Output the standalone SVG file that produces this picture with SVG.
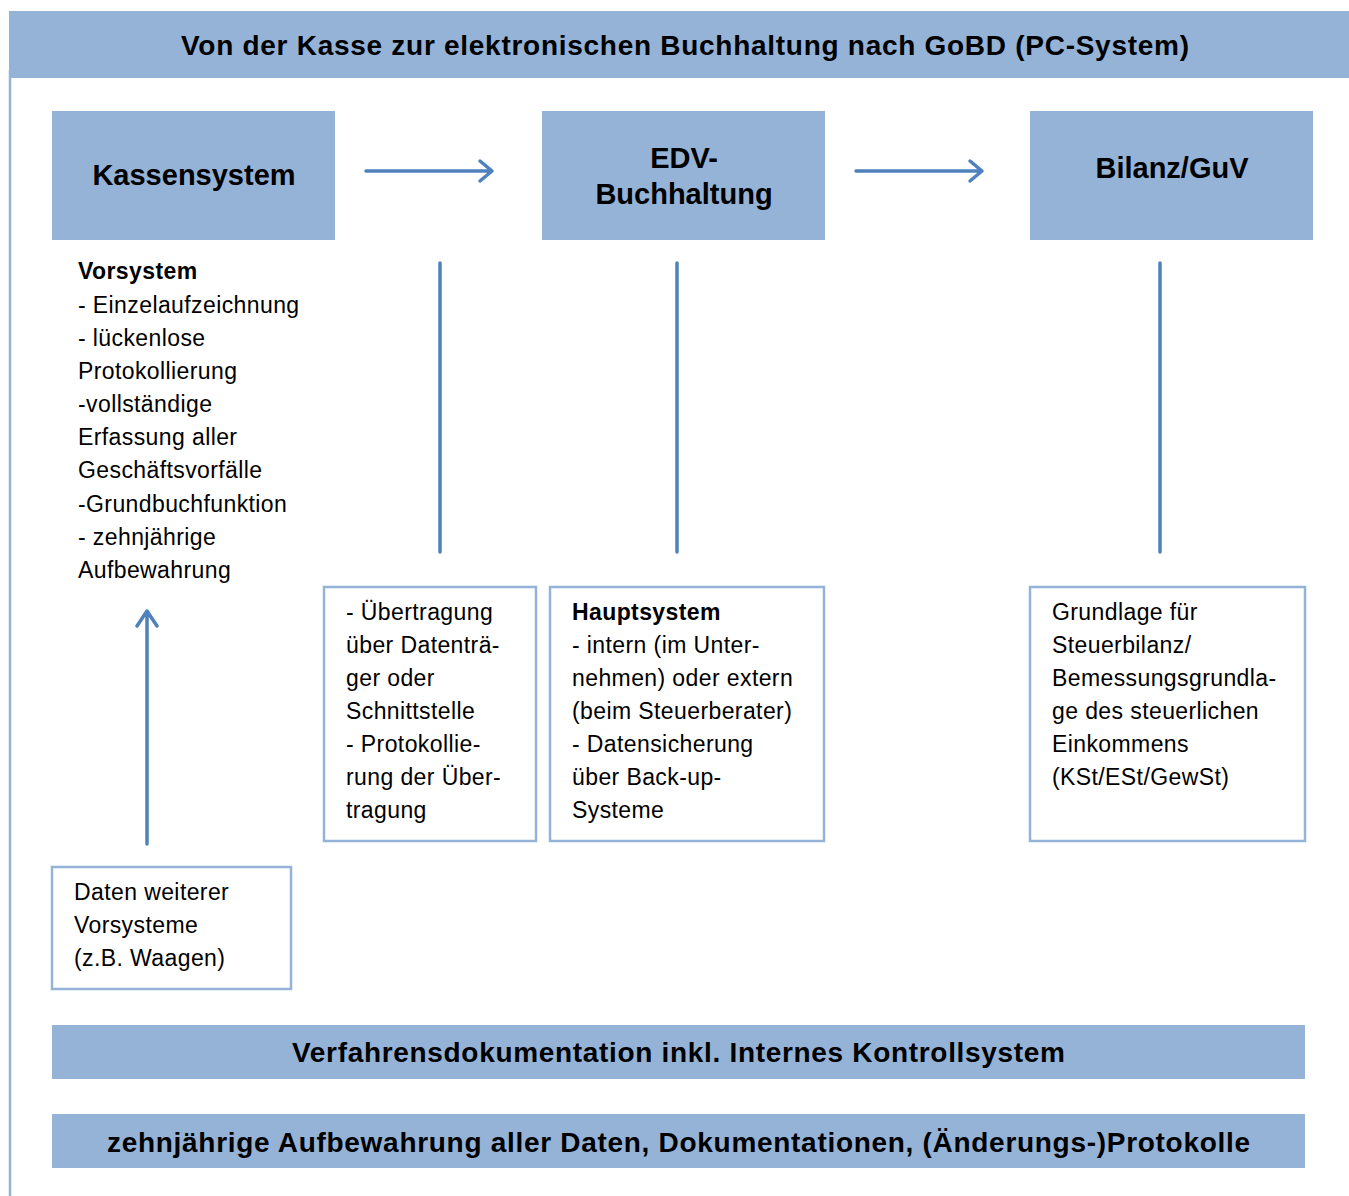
<svg xmlns="http://www.w3.org/2000/svg" width="1349" height="1196" viewBox="0 0 1349 1196">
<defs>
<style>
.band{fill:#95b3d7}
.box{fill:#fff;stroke:#95b3d7;stroke-width:2.5}
.conn{stroke:#4f81bd;stroke-width:3.5;fill:none;stroke-linecap:round;stroke-linejoin:round}
.t{font-family:"Liberation Sans",Arial,sans-serif;font-size:23px;letter-spacing:0.4px;fill:#000}
.b{font-weight:bold}
.h{font-family:"Liberation Sans",Arial,sans-serif;font-size:29px;font-weight:bold;fill:#000;text-anchor:middle}
.hb{font-family:"Liberation Sans",Arial,sans-serif;font-size:28px;font-weight:bold;fill:#000;text-anchor:middle}
</style>
</defs>
<rect width="1349" height="1196" fill="#fff"/>
<line x1="10" y1="70" x2="10" y2="1196" stroke="#95b3d7" stroke-width="2.5"/>
<g id="title">
<rect class="band" x="9" y="11" width="1340" height="67"/>
<text class="hb" x="685" y="55" textLength="1008" lengthAdjust="spacing">Von der Kasse zur elektronischen Buchhaltung nach GoBD (PC-System)</text>
</g>
<g id="kassensystem">
<rect class="band" x="52" y="111" width="283" height="129"/>
<text class="h" x="194" y="185">Kassensystem</text>
</g>
<g id="edv">
<rect class="band" x="542" y="111" width="283" height="129"/>
<text class="h" x="684" y="168">EDV-</text>
<text class="h" x="684" y="204">Buchhaltung</text>
</g>
<g id="bilanz">
<rect class="band" x="1030" y="111" width="283" height="129"/>
<text class="h" x="1172" y="178">Bilanz/GuV</text>
</g>
<g id="vorsystem">
<text class="t" x="78"><tspan class="b" x="78" y="279">Vorsystem</tspan><tspan x="78" y="313">- Einzelaufzeichnung</tspan><tspan x="78" y="346">- lückenlose</tspan><tspan x="78" y="379">Protokollierung</tspan><tspan x="78" y="412">-vollständige</tspan><tspan x="78" y="445">Erfassung aller</tspan><tspan x="78" y="478">Geschäftsvorfälle</tspan><tspan x="78" y="512">-Grundbuchfunktion</tspan><tspan x="78" y="545">- zehnjährige</tspan><tspan x="78" y="578">Aufbewahrung</tspan></text>
</g>
<g id="uebertragung">
<rect class="box" x="324" y="587" width="212" height="254"/>
<text class="t"><tspan x="346" y="620">- Übertragung</tspan><tspan x="346" y="653">über Datenträ-</tspan><tspan x="346" y="686">ger oder</tspan><tspan x="346" y="719">Schnittstelle</tspan><tspan x="346" y="752">- Protokollie-</tspan><tspan x="346" y="785">rung der Über-</tspan><tspan x="346" y="818">tragung</tspan></text>
</g>
<g id="hauptsystem">
<rect class="box" x="550" y="587" width="274" height="254"/>
<text class="t"><tspan class="b" x="572" y="620">Hauptsystem</tspan><tspan x="572" y="653">- intern (im Unter-</tspan><tspan x="572" y="686">nehmen) oder extern</tspan><tspan x="572" y="719">(beim Steuerberater)</tspan><tspan x="572" y="752">- Datensicherung</tspan><tspan x="572" y="785">über Back-up-</tspan><tspan x="572" y="818">Systeme</tspan></text>
</g>
<g id="grundlage">
<rect class="box" x="1030" y="587" width="275" height="254"/>
<text class="t"><tspan x="1052" y="620">Grundlage für</tspan><tspan x="1052" y="653">Steuerbilanz/</tspan><tspan x="1052" y="686">Bemessungsgrundla-</tspan><tspan x="1052" y="719">ge des steuerlichen</tspan><tspan x="1052" y="752">Einkommens</tspan><tspan x="1052" y="785">(KSt/ESt/GewSt)</tspan></text>
</g>
<g id="daten">
<rect class="box" x="52" y="867" width="239" height="122"/>
<text class="t"><tspan x="74" y="900">Daten weiterer</tspan><tspan x="74" y="933">Vorsysteme</tspan><tspan x="74" y="966">(z.B. Waagen)</tspan></text>
</g>
<g id="verfahren">
<rect class="band" x="52" y="1025" width="1253" height="54"/>
<text class="hb" x="678.5" y="1062" textLength="773" lengthAdjust="spacing">Verfahrensdokumentation inkl. Internes Kontrollsystem</text>
</g>
<g id="aufbewahrung">
<rect class="band" x="52" y="1114" width="1253" height="54"/>
<text class="hb" x="678.5" y="1152" textLength="1143" lengthAdjust="spacing">zehnjährige Aufbewahrung aller Daten, Dokumentationen, (Änderungs-)Protokolle</text>
</g>
<g id="connectors">
<path class="conn" d="M366 171H492M480 161L492 171L480 181"/>
<path class="conn" d="M856 171H982M970 161L982 171L970 181"/>
<path class="conn" d="M147 844V611M137 626L147 611L157 626"/>
<line class="conn" x1="440" y1="263" x2="440" y2="552" stroke-linecap="butt"/>
<line class="conn" x1="677" y1="263" x2="677" y2="552" stroke-linecap="butt"/>
<line class="conn" x1="1160" y1="263" x2="1160" y2="552" stroke-linecap="butt"/>
</g>
</svg>
